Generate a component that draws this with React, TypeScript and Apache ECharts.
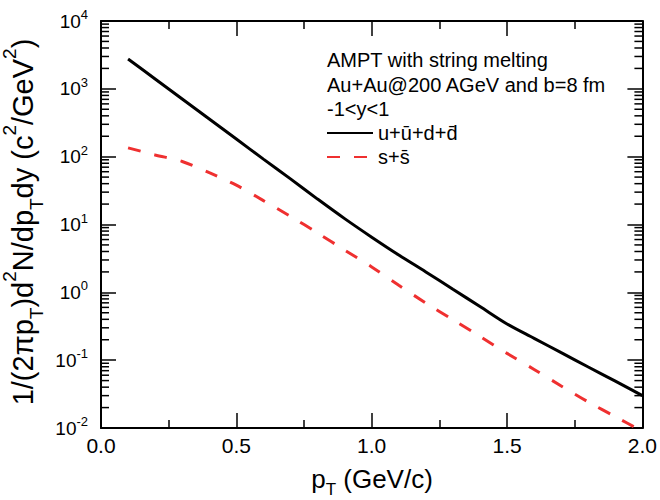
import React, { useEffect, useRef } from 'react';
import * as echarts from 'echarts';

const pT = [0.1, 0.2, 0.3, 0.4, 0.5, 0.6, 0.7, 0.8, 0.9, 1.0, 1.1, 1.2, 1.3, 1.4, 1.5, 1.6, 1.7, 1.8, 1.9, 2.0];
const lightQuark = [2750, 1400, 708, 359, 182, 92, 47, 23.7, 12.2, 6.5, 3.55, 2.0, 1.11, 0.618, 0.342, 0.21, 0.129, 0.0794, 0.049, 0.030];
const strangeQuark = [135, 106, 85, 58, 38, 22.5, 13.2, 7.5, 4.2, 2.37, 1.27, 0.695, 0.395, 0.224, 0.126, 0.073, 0.0417, 0.0242, 0.0147, 0.0089];

const seriesNames = ['u+\u016B+d+d\u0304', 's+s\u0304'];
const annotationLines = ['AMPT with string melting', 'Au+Au@200 AGeV and b=8 fm', '-1<y<1'];
const xTitle = '{m|p}{sub|T}{m| (GeV/c)}';
const yTitle = '{m|1/(2\u03C0p}{sub|T}{m|)d}{sup|2}{m|N/dp}{sub|T}{m|dy (c}{sup|2}{m|/GeV}{sup|2}{m|)}';

const yMin = 0.01;
const yMax = 10000;
const minorTickValues: number[] = [];
for (let e = -2; e < 4; e++) {
  for (let m = 2; m <= 9; m++) minorTickValues.push(m * Math.pow(10, e));
}

const FONT = '"Liberation Sans", Arial, Helvetica, sans-serif';
const RED = '#ef3030';

const makeRich = (main: number, small: number, lh: number) => ({
  m: { fontSize: main, lineHeight: lh, fontFamily: FONT, fill: '#000', color: '#000', verticalAlign: 'middle' },
  sub: { fontSize: small, lineHeight: small, fontFamily: FONT, fill: '#000', color: '#000', verticalAlign: 'bottom' },
  sup: { fontSize: small, lineHeight: small, fontFamily: FONT, fill: '#000', color: '#000', verticalAlign: 'top' },
});

export default function App() {
  const ref = useRef<HTMLDivElement>(null);
  useEffect(() => {
    if (!ref.current) return;
    const chart = echarts.init(ref.current, null, { renderer: 'svg' });
    const axisLine = { show: true, onZero: false, lineStyle: { color: '#000', width: 2 } };
    const axisTick = { show: true, inside: true, length: 15, lineStyle: { color: '#000', width: 1.5 } };
    const xMinor = { show: true, splitNumber: 2, length: 8, lineStyle: { color: '#000', width: 1.5 } };
    const option: any = {
      animation: false,
      textStyle: { fontFamily: FONT },
      grid: { left: 101, right: 15, top: 21, bottom: 72, containLabel: false },
      xAxis: [
        {
          type: 'value', min: 0, max: 2, interval: 0.5, position: 'bottom',
          axisLine, axisTick, minorTick: xMinor, splitLine: { show: false },
          axisLabel: { fontSize: 21, color: '#000', margin: 7, fontFamily: FONT, formatter: (v: number) => v.toFixed(1) },
        },
        {
          type: 'value', min: 0, max: 2, interval: 0.5, position: 'top',
          axisLine, axisTick, minorTick: xMinor, splitLine: { show: false },
          axisLabel: { show: false },
        },
      ],
      yAxis: [
        {
          type: 'log', logBase: 10, min: yMin, max: yMax, splitNumber: 6, position: 'left',
          axisLine, axisTick, splitLine: { show: false },
          axisLabel: {
            margin: 13, color: '#000',
            formatter: (v: number) => `{b|10}{s|${Math.round(Math.log10(v))}}`,
            rich: {
              b: { fontSize: 19, lineHeight: 26, fontFamily: FONT, color: '#000', verticalAlign: 'middle' },
              s: { fontSize: 13, lineHeight: 13, fontFamily: FONT, color: '#000', verticalAlign: 'top' },
            },
          },
        },
        {
          type: 'log', logBase: 10, min: yMin, max: yMax, splitNumber: 6, position: 'right',
          axisLine, axisTick, splitLine: { show: false }, axisLabel: { show: false },
        },
      ],
      legend: {
        data: seriesNames, orient: 'vertical', left: 326, top: 123,
        itemWidth: 46, itemHeight: 20, itemGap: 4, padding: 0,
        itemStyle: { opacity: 0 },
        textStyle: { fontSize: 20, color: '#000', fontFamily: FONT },
      },
      graphic: [
        ...annotationLines.map((t, i) => ({
          type: 'text', x: 327, y: [60, 85, 109][i],
          style: { text: t, fontSize: 20, fontFamily: FONT, fill: '#000', align: 'left', verticalAlign: 'middle' },
        })),
        {
          type: 'text', x: 372, y: 479,
          style: { text: xTitle, rich: makeRich(26, 17, 38), align: 'center', verticalAlign: 'middle', fill: '#000' },
        },
        {
          type: 'text', x: 23, y: 222, rotation: Math.PI / 2,
          style: { text: yTitle, rich: makeRich(29, 19, 46), align: 'center', verticalAlign: 'middle', fill: '#000' },
        },
      ],
      series: [
        {
          type: 'line', name: seriesNames[0], data: pT.map((x, i) => [x, lightQuark[i]]),
          symbol: 'none', showSymbol: false, smooth: 0.3, clip: true, z: 3,
          lineStyle: { color: '#000', width: 3 }, itemStyle: { color: '#000' },
        },
        {
          type: 'line', name: seriesNames[1], data: pT.map((x, i) => [x, strangeQuark[i]]),
          symbol: 'none', showSymbol: false, smooth: 0.3, clip: true, z: 3,
          lineStyle: { color: RED, width: 3, type: [13, 14] }, itemStyle: { color: RED },
        },
        {
          type: 'custom', name: 'minorTicks', silent: true, xAxisIndex: 0, yAxisIndex: 0,
          data: minorTickValues.map((v) => [0, v]), encode: { x: 0, y: 1 }, clip: false, z: 2,
          renderItem: (params: any, api: any) => {
            const cs = params.coordSys;
            const y = api.coord([0, api.value(1)])[1];
            const st = { stroke: '#000', lineWidth: 1.5 };
            return {
              type: 'group',
              children: [
                { type: 'line', shape: { x1: cs.x, y1: y, x2: cs.x + 8, y2: y }, style: st },
                { type: 'line', shape: { x1: cs.x + cs.width - 8, y1: y, x2: cs.x + cs.width, y2: y }, style: st },
              ],
            };
          },
        },
      ],
    };
    chart.setOption(option);
    return () => chart.dispose();
  }, []);
  return <div ref={ref} style={{ position: 'absolute', left: 0, top: 0, width: 660, height: 500, background: '#fff' }} />;
}
